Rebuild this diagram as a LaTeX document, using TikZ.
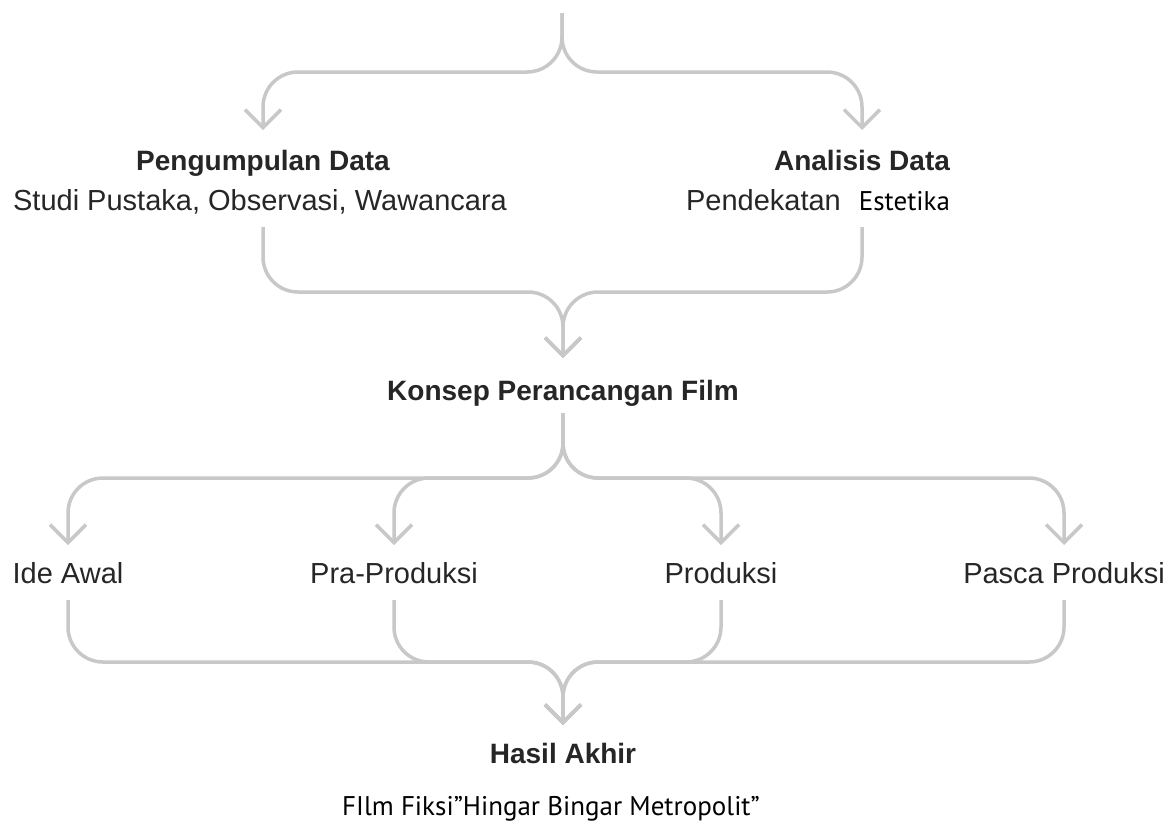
\documentclass[tikz,border=0pt]{standalone}
\usepackage{fontspec}
\setmainfont{Liberation Sans}
\newfontfamily\myr{PT Sans}
\usetikzlibrary{arrows.meta,calc}
\definecolor{lnc}{HTML}{C8C8C8}
\definecolor{txc}{HTML}{262626}
\begin{document}
\begin{tikzpicture}[x=1pt,y=-1pt,
  conn/.style={draw=lnc, line width=3.5pt, rounded corners=35pt, -{Straight Barb[length=18pt,width=36pt]}},
  boldlbl/.style={font=\fontsize{28}{34}\selectfont\bfseries, text=txc, anchor=base, inner sep=0pt},
  reglbl/.style={font=\fontsize{29}{35}\selectfont, text=txc, anchor=base, inner sep=0pt},
  myrlbl/.style={font=\myr\fontsize{27}{32}\selectfont, text=black, anchor=base, inner sep=0pt},
]
\useasboundingbox[fill=white] (0,0) rectangle (1175,823);

\node[boldlbl] (pd) at (263,170) {Pengumpulan Data};
\node[reglbl] (sp) at (260,210) {Studi Pustaka, Observasi, Wawancara};
\node[boldlbl] (ad) at (862,170) {Analisis Data};
\node[reglbl] (pe) at (818,210) {Pendekatan\hspace{18pt}{\myr\fontsize{27}{32}\selectfont\color{black}Estetika}};
\node[boldlbl] (ks) at (563,400) {Konsep Perancangan Film};
\node[reglbl] (ide) at (68,583) {Ide Awal};
\node[reglbl] (pra) at (394,583) {Pra-Produksi};
\node[reglbl] (prod) at (721,583) {Produksi};
\node[reglbl] (pasca) at (1064,583) {Pasca Produksi};
\node[boldlbl] (hs) at (563,763) {Hasil Akhir};
\node[myrlbl] (ff) at (551,815) {FIlm Fiksi”Hingar Bingar Metropolit”};

\coordinate (src) at (562,13);

\draw[conn] (src) -- ++(0,59) -| ($(pd.base)+(0,-40)$);
\draw[conn] (src) -- ++(0,59) -| ($(ad.base)+(0,-40)$);

\draw[conn] ($(pd.base)+(0,57)$) -- ++(0,65) -| ($(ks.base)+(0,-42)$);
\draw[conn] ($(ad.base)+(0,57)$) -- ++(0,65) -| ($(ks.base)+(0,-42)$);

\foreach \t in {ide,pra,prod,pasca}
  \draw[conn] ($(ks.base)+(0,13)$) -- ++(0,65) -| ($(\t.base)+(0,-38)$);

\foreach \t in {ide,pra,prod,pasca}
  \draw[conn] ($(\t.base)+(0,17)$) -- ++(0,62) -| ($(hs.base)+(0,-38)$);
\end{tikzpicture}
\end{document}
